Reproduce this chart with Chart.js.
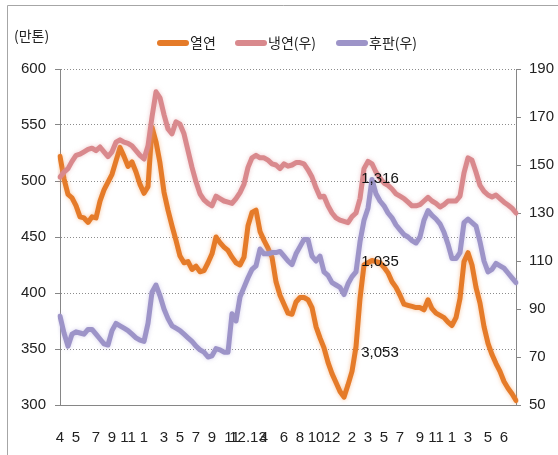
<!DOCTYPE html>
<html>
<head>
<meta charset="utf-8">
<script src="https://cdn.jsdelivr.net/npm/chart.js@4.4.1/dist/chart.umd.min.js"></script>
<style>
  html, body { margin: 0; padding: 0; background: #fff; }
  canvas { display: block; }
</style>
</head>
<body>
<canvas id="chart" width="558" height="455"></canvas>
<script>
// month labels shown under the x axis, evenly spread over the weeks
const monthTicks = ['4', '5', '7', '9', '11', '1', '3', '5', '7', '9', '11', '12.13', '4', '6', '8', '10', '12', '2', '3', '5', '7', '9', '11', '1', '3', '5', '6'];

// 열연 (left axis, 만톤)
const hotRolled = [
  522, 502, 488, 485, 478, 468, 467, 463, 468, 467,
  482, 492, 499, 506, 518, 530, 522, 513, 517, 508,
  497, 489, 495, 548, 535, 516, 490, 474, 460, 447,
  433, 427, 428, 421, 424, 419, 420, 427, 435, 450,
  445, 441, 438, 432, 427, 425, 432, 460, 472, 474,
  455, 447, 440, 432, 410, 398, 390, 382, 381, 392,
  396, 396, 394, 387, 370, 360, 351, 338, 328, 320,
  312, 307, 318, 330, 352, 395, 425, 427, 429, 428,
  427, 423, 418, 410, 405, 398, 390, 389, 388, 387,
  387, 385, 394, 386, 382, 380, 378, 374, 371, 378,
  395, 428, 436, 425, 405, 391, 370, 355, 345, 337,
  330, 321, 315, 310, 304
];

// 냉연 (right axis)
const coldRolled = [
  145, 147, 148.5, 151.5, 154, 154.5, 155.5, 156.5, 157, 156,
  157.5, 155.5, 153.5, 155.5, 159.5, 160.5, 159.5, 159, 158, 156,
  154, 152.5, 158, 170, 180.5, 178, 171, 165, 163, 168,
  167, 163, 156, 149, 143, 138, 135.5, 134, 133, 137,
  136, 135, 134.5, 134, 136, 138.5, 142, 149, 153, 154,
  153, 153, 152, 150.5, 150, 148.5, 150.5, 149.5, 150, 151,
  151, 150.5, 148, 145, 140.5, 136.7, 137, 133, 130, 128,
  127, 126.5, 126, 128.5, 130, 136, 148.5, 151.5, 150.5, 147,
  144.5, 142.5, 141.5, 140, 138, 137, 136, 134.5, 133, 133,
  133.5, 135, 136.5, 135, 134, 132.5, 133.5, 135, 135, 135,
  137, 146.7, 153, 152, 147, 141.5, 139, 137.5, 136.7, 137.5,
  136, 134.5, 133.3, 132, 130
];

// 후판 (right axis)
const plate = [
  87, 80, 74.5, 79.5, 80.5, 80, 79.5, 81.5, 81.5, 79.5,
  77.5, 75.5, 75, 81, 84, 83, 82, 81, 79.5, 78,
  77, 76.5, 84, 97, 100, 95.5, 90, 86, 83, 82,
  81, 79.5, 78, 76.5, 74.5, 73, 72, 70, 70.5, 73.5,
  73, 72, 72, 88, 85, 95, 99, 103, 106.5, 108,
  115, 113, 113, 113.5, 113.5, 114, 112, 110, 108.5, 113,
  116, 119, 119, 112, 110, 112, 105.5, 104, 101, 100,
  99, 96, 100.5, 103.5, 105.5, 118, 127, 132, 144, 138,
  135, 133, 130, 128, 125, 123, 121, 120, 118.5, 117.5,
  120, 127, 131, 129, 127.5, 125.5, 122, 117, 111, 111,
  113.5, 126, 127.5, 126, 124.5, 118, 110, 105.5, 106.5, 109,
  108, 107, 105, 103, 101
];

const seriesNames = ['열연', '냉연(우)', '후판(우)'];
const seriesColors = ['#E57B29', '#D9898D', '#9D94C8'];
const seriesGlow = ['rgba(240,150,80,0.55)', 'rgba(225,160,165,0.55)', 'rgba(180,172,220,0.55)'];

// value callouts written on the plot: text, week index, axis, value
const callouts = [
  { text: '1,316', index: 80, axis: 'y1', value: 144.2 },
  { text: '1,035', index: 80, axis: 'y', value: 427.5 },
  { text: '3,053', index: 80, axis: 'y', value: 346.5 },
];

const lastTick = 111;
const xLabels = hotRolled.map(() => '');
monthTicks.forEach((t, k) => {
  xLabels[Math.round(k * lastTick / (monthTicks.length - 1))] = t;
});

const NUM_FONT = '"Liberation Sans Narrow", "Liberation Sans", sans-serif';
const KR_FONT = '"Noto Sans CJK KR", sans-serif';
const AXIS_GRAY = '#868686';

// soft halo round each line, like the original's glow
const glow = {
  id: 'glow',
  beforeDatasetDraw(chart, args) {
    const ctx = chart.ctx;
    ctx.save();
    ctx.shadowColor = seriesGlow[args.index];
    ctx.shadowBlur = 4;
  },
  afterDatasetDraw(chart) {
    chart.ctx.restore();
  },
};

const decorations = {
  id: 'decorations',
  beforeDraw(chart) {
    const ctx = chart.ctx;
    ctx.save();
    ctx.fillStyle = '#fff';
    ctx.fillRect(0, 0, chart.width, chart.height);
    // outer frame (top and left edges visible)
    ctx.strokeStyle = '#a6a6a6';
    ctx.lineWidth = 1;
    ctx.beginPath();
    ctx.moveTo(7.5, chart.height + 2);
    ctx.lineTo(7.5, 5.5);
    ctx.lineTo(chart.width + 2, 5.5);
    ctx.stroke();
    ctx.restore();
  },
  afterDraw(chart) {
    const ctx = chart.ctx;
    ctx.save();
    // unit label
    ctx.fillStyle = '#222';
    ctx.font = '14px ' + KR_FONT;
    ctx.textBaseline = 'middle';
    ctx.textAlign = 'left';
    ctx.fillText('(만톤)', 14, 36);

    // legend
    const legendX = [157, 235, 336];
    seriesNames.forEach((name, i) => {
      const x = legendX[i];
      ctx.strokeStyle = seriesColors[i];
      ctx.lineWidth = 6;
      ctx.lineCap = 'round';
      ctx.beginPath();
      ctx.moveTo(x + 3, 43);
      ctx.lineTo(x + 29, 43);
      ctx.stroke();
      ctx.fillStyle = '#222';
      ctx.font = '14px ' + KR_FONT;
      ctx.fillText(name, x + 33, 43);
    });

    // callouts
    ctx.font = '15px ' + NUM_FONT;
    ctx.textAlign = 'center';
    ctx.fillStyle = '#111';
    const xs = chart.scales.x;
    callouts.forEach((c) => {
      const px = xs.getPixelForValue(c.index);
      const py = chart.scales[c.axis].getPixelForValue(c.value);
      ctx.fillText(c.text, px, py);
    });
    ctx.restore();
  },
};

new Chart(document.getElementById('chart').getContext('2d'), {
  type: 'line',
  plugins: [decorations, glow],
  data: {
    labels: xLabels,
    datasets: [
      { label: seriesNames[0], data: hotRolled, yAxisID: 'y', borderColor: seriesColors[0], order: 3 },
      { label: seriesNames[1], data: coldRolled, yAxisID: 'y1', borderColor: seriesColors[1], order: 2 },
      { label: seriesNames[2], data: plate, yAxisID: 'y1', borderColor: seriesColors[2], order: 1 },
    ],
  },
  options: {
    responsive: false,
    animation: false,
    devicePixelRatio: 1,
    layout: { padding: { top: 69, left: 0, right: 0, bottom: 0 } },
    elements: {
      line: { borderWidth: 5, tension: 0, borderJoinStyle: 'round', borderCapStyle: 'round', fill: false },
      point: { radius: 0, hoverRadius: 0 },
    },
    plugins: {
      legend: { display: false },
      tooltip: { enabled: false },
    },
    scales: {
      x: {
        type: 'category',
        afterFit: (s) => { s.height = 50; },
        grid: { display: false, drawTicks: false },
        border: { display: true, color: AXIS_GRAY },
        ticks: {
          autoSkip: false, maxRotation: 0, minRotation: 0, padding: 24,
          color: '#222', font: { family: NUM_FONT, size: 15 },
        },
      },
      y: {
        position: 'left',
        min: 300, max: 600,
        afterFit: (s) => { s.width = 60; },
        ticks: { stepSize: 50, padding: 9, color: '#222', font: { family: NUM_FONT, size: 15 } },
        grid: { color: '#8c8c8c', lineWidth: 1, drawTicks: true, tickLength: 5, tickColor: AXIS_GRAY, tickBorderDash: [1, 0] },
        border: { display: true, color: AXIS_GRAY, dash: [1, 2] },
      },
      y1: {
        position: 'right',
        min: 50, max: 190,
        afterFit: (s) => { s.width = 42; },
        ticks: { stepSize: 20, padding: 8, color: '#222', font: { family: NUM_FONT, size: 15 } },
        grid: { drawOnChartArea: false, drawTicks: true, tickLength: 5, tickColor: AXIS_GRAY },
        border: { display: true, color: AXIS_GRAY },
      },
    },
  },
});
</script>
</body>
</html>
